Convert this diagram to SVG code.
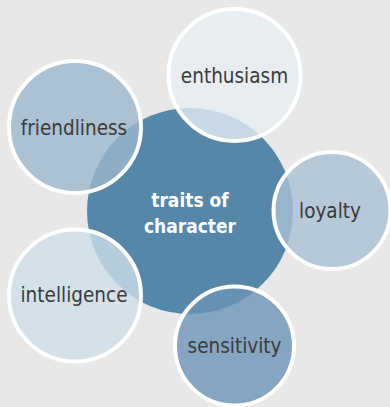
<svg xmlns="http://www.w3.org/2000/svg" width="390" height="407" viewBox="0 0 390 407">
<style>
.bg{fill:#e8e8e8}
.hub{fill:#5687a8}
.sat{stroke:#ffffff;stroke-width:4;fill-opacity:0.8}
.lbl{font-family:"DejaVu Sans Condensed","DejaVu Sans",sans-serif;font-size:20.5px;fill:#3b3b3b;text-anchor:middle}
.hubt{font-family:"DejaVu Sans Condensed","DejaVu Sans",sans-serif;font-size:19px;font-weight:bold;fill:#ffffff;text-anchor:middle}
</style>
<rect class="bg" x="0" y="0" width="390" height="407"/>
<g id="connectors"></g>
<g id="hub">
<circle class="hub" cx="190" cy="211" r="103"/>
<text class="hubt" x="190" y="206.5">traits of</text>
<text class="hubt" x="190" y="232.5">character</text>
</g>
<g id="enthusiasm">
<circle class="sat" cx="234.5" cy="75" r="66" fill="#e6edf2"/>
<text class="lbl" x="234.5" y="83">enthusiasm</text>
</g>
<g id="friendliness">
<circle class="sat" cx="75" cy="127" r="66" fill="#9cb6cb"/>
<text class="lbl" x="74" y="135">friendliness</text>
</g>
<g id="loyalty">
<circle class="sat" cx="332" cy="210.5" r="58.5" fill="#aac1d3"/>
<text class="lbl" x="330" y="217.5">loyalty</text>
</g>
<g id="intelligence">
<circle class="sat" cx="75" cy="295.5" r="66" fill="#d0dee8"/>
<text class="lbl" x="74" y="302">intelligence</text>
</g>
<g id="sensitivity">
<circle class="sat" cx="234.5" cy="346" r="59.5" fill="#6c94b5"/>
<text class="lbl" x="234.5" y="353">sensitivity</text>
</g>
</svg>
